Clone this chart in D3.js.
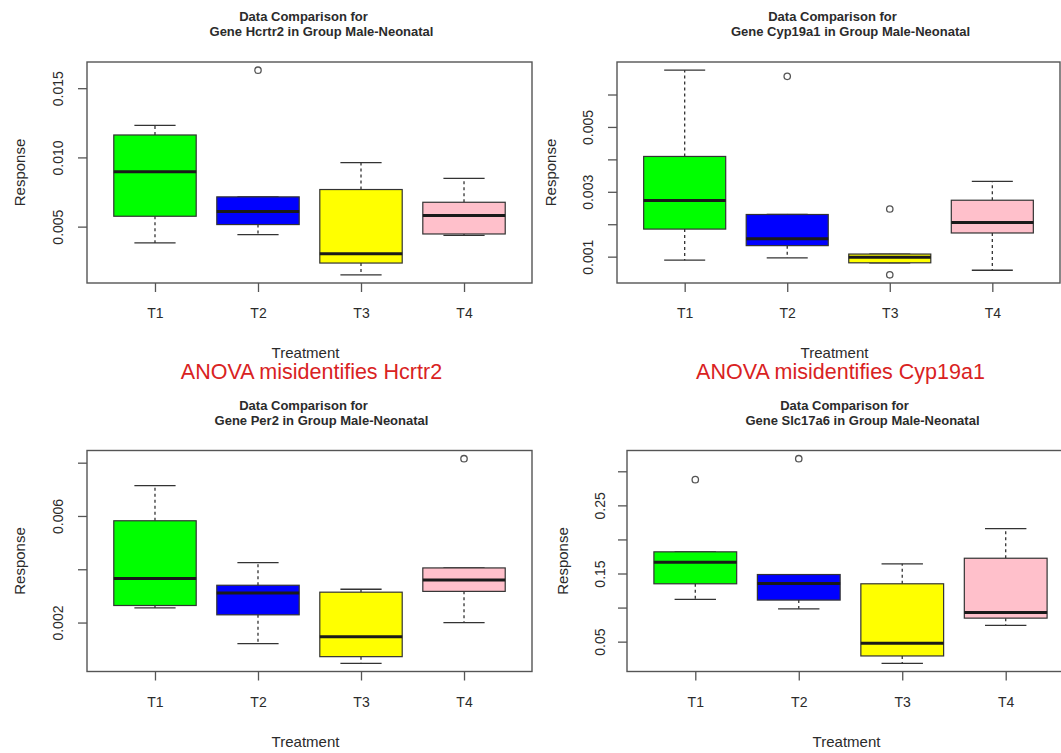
<!DOCTYPE html>
<html>
<head>
<meta charset="utf-8">
<title>Data Comparison boxplots</title>
<style>
  body { margin: 0; background: #fff; }
  svg { display: block; }
  text { font-family: "Liberation Sans", Arial, sans-serif; fill: #2b2b2b; }
  .title { font-size: 13px; font-weight: bold; }
  .tick-label { font-size: 14px; }
  .axis-title { font-size: 15px; }
  .note { font-size: 21.5px; fill: #d92222; }
</style>
</head>
<body>
<svg width="1061" height="753"></svg>
<script src="https://cdnjs.cloudflare.com/ajax/libs/d3/7.8.5/d3.min.js"></script>
<script>
// groups along the x axis and their box colours
var treatments = ['T1', 'T2', 'T3', 'T4'];
var boxFills = ['#00ff00', '#0000ff', '#ffff00', '#ffc0cb'];

// one row per treatment: [low whisker, Q1, median, Q3, high whisker]
var hcrtr2Stats = [
  [0.00382, 0.00575, 0.00896, 0.01162, 0.01232],
  [0.00442, 0.00515, 0.00609, 0.00715, 0.00715],
  [0.00152, 0.00237, 0.00304, 0.00768, 0.00962],
  [0.00437, 0.00447, 0.00580, 0.00676, 0.00848]
];
var hcrtr2Outliers = [[], [0.0163], [], []];

var cyp19a1Stats = [
  [0.00089, 0.00185, 0.00273, 0.00409, 0.00675],
  [0.00096, 0.00134, 0.00155, 0.00230, 0.00230],
  [0.00081, 0.00081, 0.00098, 0.00108, 0.00108],
  [0.00058, 0.00173, 0.00205, 0.00274, 0.00332]
];
var cyp19a1Outliers = [[], [0.00656], [0.00247, 0.00044], []];

var per2Stats = [
  [0.00255, 0.00264, 0.00365, 0.00582, 0.00714],
  [0.00121, 0.00229, 0.00311, 0.00340, 0.00425],
  [0.00047, 0.00072, 0.00147, 0.00314, 0.00325],
  [0.00200, 0.00317, 0.00360, 0.00405, 0.00405]
];
var per2Outliers = [[], [], [], [0.00815]];

var slc17a6Stats = [
  [0.1119, 0.1349, 0.1666, 0.1818, 0.1818],
  [0.0982, 0.1110, 0.1354, 0.1485, 0.1485],
  [0.0182, 0.0290, 0.0475, 0.1349, 0.1642],
  [0.0738, 0.0845, 0.0928, 0.1724, 0.2160]
];
var slc17a6Outliers = [[0.2877], [0.3185], [], []];

// y ticks, and which of them get a printed label
var hcrtr2Ticks = [0.005, 0.010, 0.015];
var hcrtr2Labels = ['0.005', '0.010', '0.015'];
var cyp19a1Ticks = [0.001, 0.002, 0.003, 0.004, 0.005, 0.006];
var cyp19a1Labels = ['0.001', '', '0.003', '', '0.005', ''];
var per2Ticks = [0.002, 0.004, 0.006, 0.008];
var per2Labels = ['0.002', '', '0.006', ''];
var slc17a6Ticks = [0.05, 0.10, 0.15, 0.20, 0.25, 0.30];
var slc17a6Labels = ['0.05', '', '0.15', '', '0.25', ''];

var geneNames = ['Hcrtr2', 'Cyp19a1', 'Per2', 'Slc17a6'];
var notes = ['ANOVA misidentifies Hcrtr2', 'ANOVA misidentifies Cyp19a1', '', ''];

var svg = d3.select('svg');

function drawPanel(opt) {
  var g = svg.append('g');
  var x = d3.scaleLinear().domain([0.34, 4.66]).range([opt.left, opt.right]);

  // like R: data range padded by 4% each side
  var all = [];
  opt.stats.forEach(function(s, i) { all = all.concat(s, opt.outliers[i]); });
  var ext = d3.extent(all);
  var pad = (ext[1] - ext[0]) * 0.04;
  var y = d3.scaleLinear().domain([ext[0] - pad, ext[1] + pad]).range([opt.bottom, opt.top]);

  var unit = x(2) - x(1);
  var midX = (opt.left + opt.right) / 2;

  // boxes
  var boxes = g.selectAll('.box').data(opt.stats).enter().append('g');

  boxes.append('line') // upper whisker
    .attr('x1', function(d, i) { return x(i + 1); })
    .attr('x2', function(d, i) { return x(i + 1); })
    .attr('y1', function(d) { return y(d[3]); })
    .attr('y2', function(d) { return y(d[4]); })
    .attr('stroke', '#333').attr('stroke-width', 1.3).attr('stroke-dasharray', '3,3');
  boxes.append('line') // lower whisker
    .attr('x1', function(d, i) { return x(i + 1); })
    .attr('x2', function(d, i) { return x(i + 1); })
    .attr('y1', function(d) { return y(d[1]); })
    .attr('y2', function(d) { return y(d[0]); })
    .attr('stroke', '#333').attr('stroke-width', 1.3).attr('stroke-dasharray', '3,3');
  [0, 4].forEach(function(k) {
    boxes.append('line') // staples
      .attr('x1', function(d, i) { return x(i + 1 - 0.2); })
      .attr('x2', function(d, i) { return x(i + 1 + 0.2); })
      .attr('y1', function(d) { return y(d[k]); })
      .attr('y2', function(d) { return y(d[k]); })
      .attr('stroke', '#333').attr('stroke-width', 1.3);
  });
  boxes.append('rect')
    .attr('x', function(d, i) { return x(i + 1 - 0.4); })
    .attr('width', unit * 0.8)
    .attr('y', function(d) { return y(d[3]); })
    .attr('height', function(d) { return Math.max(1, y(d[1]) - y(d[3])); })
    .attr('fill', function(d, i) { return boxFills[i]; })
    .attr('stroke', '#333').attr('stroke-width', 1.2);
  boxes.append('line') // median
    .attr('x1', function(d, i) { return x(i + 1 - 0.4); })
    .attr('x2', function(d, i) { return x(i + 1 + 0.4); })
    .attr('y1', function(d) { return y(d[2]); })
    .attr('y2', function(d) { return y(d[2]); })
    .attr('stroke', '#1a1a1a').attr('stroke-width', 3);

  // outliers
  opt.outliers.forEach(function(list, i) {
    g.selectAll(null).data(list).enter().append('circle')
      .attr('cx', x(i + 1))
      .attr('cy', function(d) { return y(d); })
      .attr('r', 3.2)
      .attr('fill', 'none').attr('stroke', '#555').attr('stroke-width', 1.3);
  });

  // frame
  g.append('rect')
    .attr('x', opt.left).attr('y', opt.top)
    .attr('width', opt.right - opt.left).attr('height', opt.bottom - opt.top)
    .attr('fill', 'none').attr('stroke', '#555').attr('stroke-width', 1.4);

  // x axis
  var xAxis = g.append('g').attr('transform', 'translate(0,' + opt.bottom + ')')
    .call(d3.axisBottom(x).tickValues([1, 2, 3, 4]).tickSize(9).tickSizeOuter(0)
      .tickFormat(function(d) { return treatments[d - 1]; }));
  xAxis.select('.domain').remove();
  xAxis.selectAll('line').attr('stroke', '#555').attr('stroke-width', 1.3);
  xAxis.selectAll('text').attr('class', 'tick-label').attr('dy', null)
    .attr('y', 35).attr('font-family', null).attr('font-size', null).attr('fill', null);

  // y axis, labels parallel to the axis
  var yAxis = g.append('g').attr('transform', 'translate(' + opt.left + ',0)')
    .call(d3.axisLeft(y).tickValues(opt.ticks).tickSize(9).tickSizeOuter(0)
      .tickFormat(function(d, i) { return opt.labels[i]; }));
  yAxis.select('.domain').remove();
  yAxis.selectAll('line').attr('stroke', '#555').attr('stroke-width', 1.3);
  yAxis.selectAll('text')
    .attr('class', 'tick-label')
    .attr('x', null).attr('dy', null)
    .attr('font-family', null).attr('font-size', null).attr('fill', null)
    .attr('text-anchor', 'middle')
    .attr('dominant-baseline', 'central')
    .attr('transform', 'translate(' + (-opt.labelGap) + ',0) rotate(-90)');

  // axis titles
  g.append('text').attr('class', 'axis-title')
    .attr('text-anchor', 'middle')
    .attr('dominant-baseline', 'central')
    .attr('transform', 'translate(' + (opt.left - opt.titleGap) + ',' + ((opt.top + opt.bottom) / 2) + ') rotate(-90)')
    .text('Response');
  g.append('text').attr('class', 'axis-title')
    .attr('x', midX - 4).attr('y', opt.bottom + 75)
    .attr('text-anchor', 'middle')
    .text('Treatment');

  // main title, two lines
  g.append('text').attr('class', 'title')
    .attr('x', midX - 6).attr('y', opt.top - 41)
    .attr('text-anchor', 'middle')
    .text('Data Comparison for');
  g.append('text').attr('class', 'title')
    .attr('x', midX + 12).attr('y', opt.top - 26)
    .attr('text-anchor', 'middle')
    .text('Gene ' + opt.gene + ' in Group Male-Neonatal');

  if (opt.note) {
    g.append('text').attr('class', 'note')
      .attr('x', midX + 2).attr('y', opt.bottom + 96)
      .attr('text-anchor', 'middle')
      .text(opt.note);
  }
}

drawPanel({ left: 87, right: 532, top: 62, bottom: 283, labelGap: 29, titleGap: 68,
  stats: hcrtr2Stats, outliers: hcrtr2Outliers, ticks: hcrtr2Ticks, labels: hcrtr2Labels,
  gene: geneNames[0], note: notes[0] });
drawPanel({ left: 617, right: 1060, top: 62, bottom: 283, labelGap: 29, titleGap: 67,
  stats: cyp19a1Stats, outliers: cyp19a1Outliers, ticks: cyp19a1Ticks, labels: cyp19a1Labels,
  gene: geneNames[1], note: notes[1] });
drawPanel({ left: 87, right: 532, top: 450.5, bottom: 671.5, labelGap: 29, titleGap: 68,
  stats: per2Stats, outliers: per2Outliers, ticks: per2Ticks, labels: per2Labels,
  gene: geneNames[2], note: notes[2] });
drawPanel({ left: 627, right: 1074, top: 450.5, bottom: 671.5, labelGap: 27, titleGap: 65,
  stats: slc17a6Stats, outliers: slc17a6Outliers, ticks: slc17a6Ticks, labels: slc17a6Labels,
  gene: geneNames[3], note: notes[3] });
</script>
</body>
</html>
